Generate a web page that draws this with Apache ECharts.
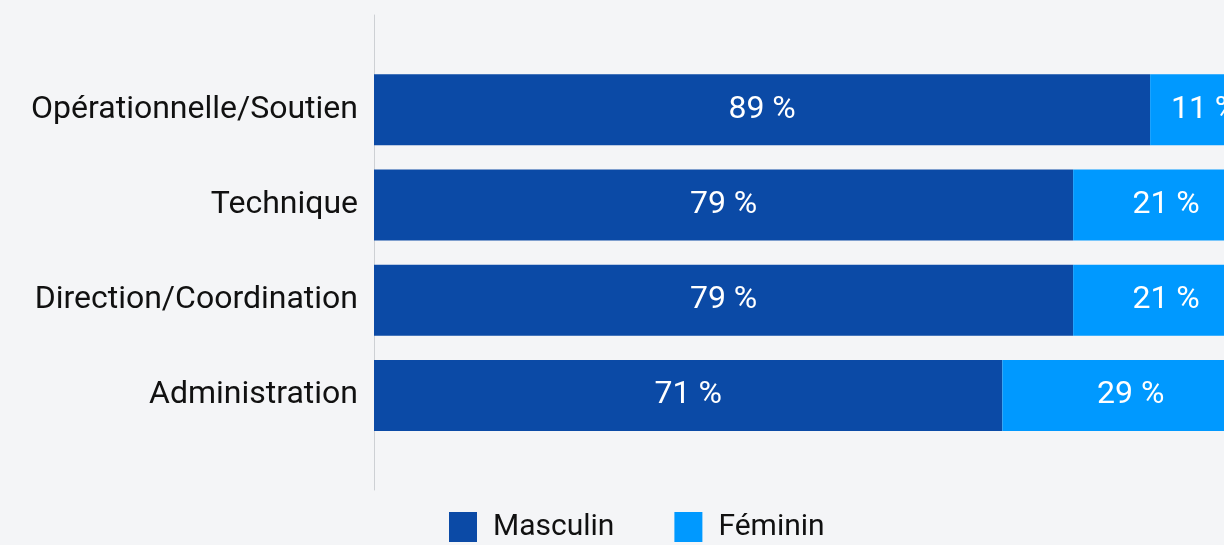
<!DOCTYPE html>
<html>
<head>
<meta charset="utf-8">
<script src="https://cdn.jsdelivr.net/npm/echarts@6/dist/echarts.min.js"></script>
<style>
  html, body { margin: 0; padding: 0; background: #f4f5f7; }
  #chart { width: 1224px; height: 545px; }
</style>
</head>
<body>
<div id="chart"></div>
<script>
const categories = ['Opérationnelle/Soutien', 'Technique', 'Direction/Coordination', 'Administration']
// bar lengths (share of the full bar, %)
const masculin = [87.7, 79, 79, 71]
const feminin = [12.3, 21, 21, 29]
// percentages printed on the bars
const pctMasculin = [89, 79, 79, 71]
const pctFeminin = [11, 21, 21, 29]

const font = 'Roboto, "Noto Sans", sans-serif'

const barLabel = (pcts) => ({
  show: true,
  position: 'inside',
  color: '#ffffff',
  fontFamily: font,
  fontSize: 32,
  formatter: (p) => pcts[p.dataIndex] + ' %'
})

const c = echarts.init(document.getElementById('chart'))
c.setOption({
  backgroundColor: '#f4f5f7',
  animation: false,
  legend: {
    left: 444,
    top: 507,
    icon: 'rect',
    itemWidth: 28,
    itemHeight: 30,
    itemGap: 60,
    textStyle: { fontFamily: font, fontSize: 30, color: '#111111', padding: [0, 0, 0, 11] },
    data: ['Masculin', 'Féminin']
  },
  grid: [
    { left: 374, width: 885, top: 62, height: 381, outerBoundsMode: 'none' },
    { left: 374, width: 885, top: 15, bottom: 55, outerBoundsMode: 'none' }
  ],
  xAxis: [
    { gridIndex: 0, type: 'value', min: 0, max: 100, show: false },
    { gridIndex: 1, type: 'value', min: 0, max: 1, show: false }
  ],
  yAxis: [
    {
      gridIndex: 0,
      type: 'category',
      inverse: true,
      data: categories,
      axisLine: { show: false },
      axisTick: { show: false },
      axisLabel: { margin: 16, fontFamily: font, fontSize: 32, color: '#111111' }
    },
    {
      gridIndex: 1,
      type: 'value',
      min: 0,
      max: 1,
      axisLine: { show: true, lineStyle: { color: '#cdd0d4', width: 1 } },
      axisTick: { show: false },
      axisLabel: { show: false },
      splitLine: { show: false }
    }
  ],
  series: [
    {
      name: 'Masculin',
      type: 'bar',
      stack: 'total',
      barWidth: 71,
      data: masculin,
      itemStyle: { color: '#0b4aa6' },
      label: barLabel(pctMasculin)
    },
    {
      name: 'Féminin',
      type: 'bar',
      stack: 'total',
      barWidth: 71,
      data: feminin,
      itemStyle: { color: '#0099ff' },
      label: barLabel(pctFeminin)
    }
  ]
})
</script>
</body>
</html>
